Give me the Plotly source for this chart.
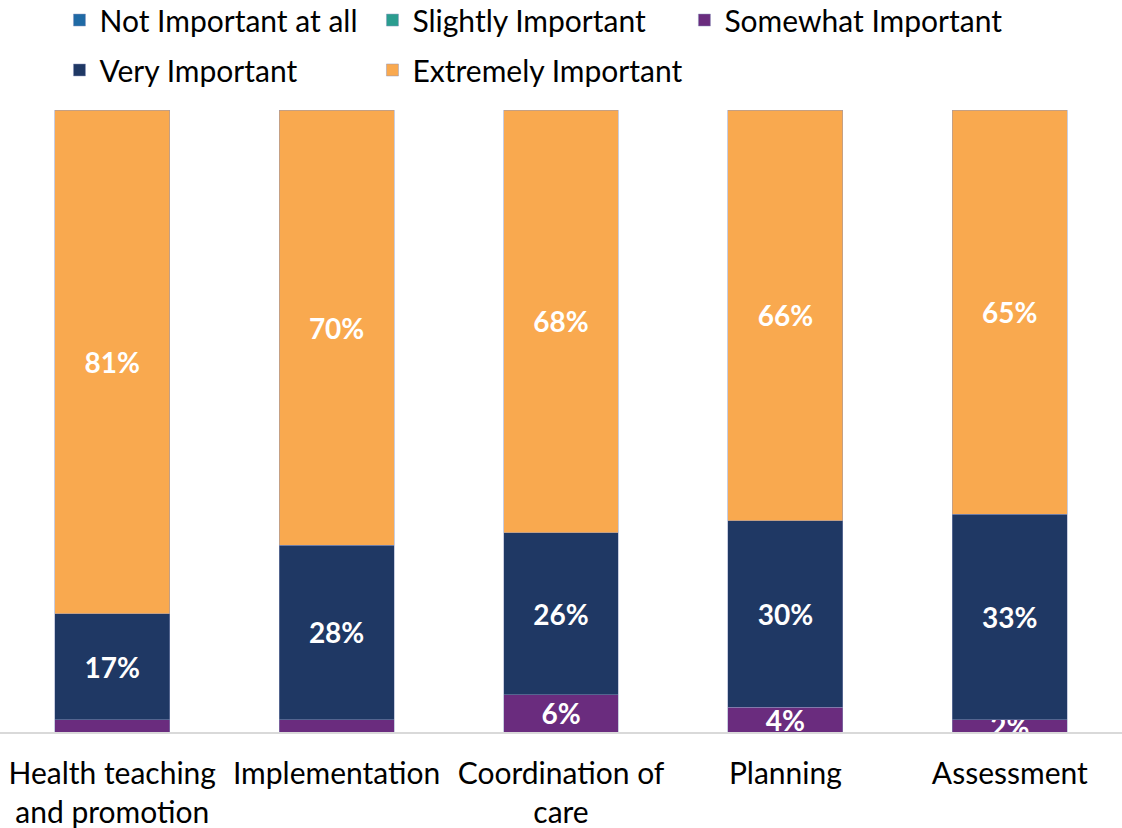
import plotly.graph_objects as go

categories = ["Health teaching<br>and promotion", "Implementation", "Coordination of<br>care", "Planning", "Assessment"]
not_important = [0, 0, 0, 0, 0]
slightly_important = [0, 0, 0, 0, 0]
somewhat_important = [2, 2, 6, 4, 2]
very_important = [17, 28, 26, 30, 33]
extremely_important = [81, 70, 68, 66, 65]
somewhat_labels = ["", "", "6%", "4%", "2%"]

series = [
    ("Not Important at all", not_important, "#1F6AA5", None, "legend"),
    ("Slightly Important", slightly_important, "#2A9D8F", None, "legend"),
    ("Somewhat Important", somewhat_important, "#6A2C7E", somewhat_labels, "legend3"),
    ("Very Important", very_important, "#1F3864", None, "legend2"),
    ("Extremely Important", extremely_important, "#F9A94F", None, "legend2"),
]

FONT = "Lato"
fig = go.Figure()
for name, vals, color, labels, lg in series:
    if labels is None:
        labels = [f"{v}%" if v > 0 else "" for v in vals]
    fig.add_trace(go.Bar(
        x=categories, y=vals, name=name,
        marker=dict(color=color, line=dict(color="rgba(140,150,190,0.6)", width=0.8)),
        text=labels, textposition="inside", insidetextanchor="middle",
        textfont=dict(family=FONT, size=28, color="white", weight="bold"),
        constraintext="none", cliponaxis=True,
        legend=lg,
    ))

leg_common = dict(orientation="h", xanchor="left", yanchor="middle",
                  xref="container", yref="container",
                  font=dict(family=FONT, size=30, color="black"),
                  bgcolor="rgba(0,0,0,0)", traceorder="normal")

fig.update_layout(
    barmode="stack",
    bargap=0.488,
    width=1122, height=828,
    margin=dict(l=0, r=0, t=110, b=96, autoexpand=False),
    plot_bgcolor="white", paper_bgcolor="white",
    legend=dict(x=0.053, y=0.9758, entrywidth=268, **leg_common),
    legend3=dict(x=0.610, y=0.9758, **leg_common),
    legend2=dict(x=0.053, y=0.9155, entrywidth=268, **leg_common),
    xaxis=dict(showline=True, linecolor="#D9D9D9", linewidth=2, ticks="",
               automargin=False, ticklabelstandoff=14,
               tickfont=dict(family=FONT, size=30, color="black"), fixedrange=True),
    yaxis=dict(range=[0, 100], visible=False, showgrid=False, automargin=False),
    font=dict(family=FONT),
)

fig.write_html("out.html", config={"displayModeBar": False},
               post_script="document.body.style.margin='0';")
